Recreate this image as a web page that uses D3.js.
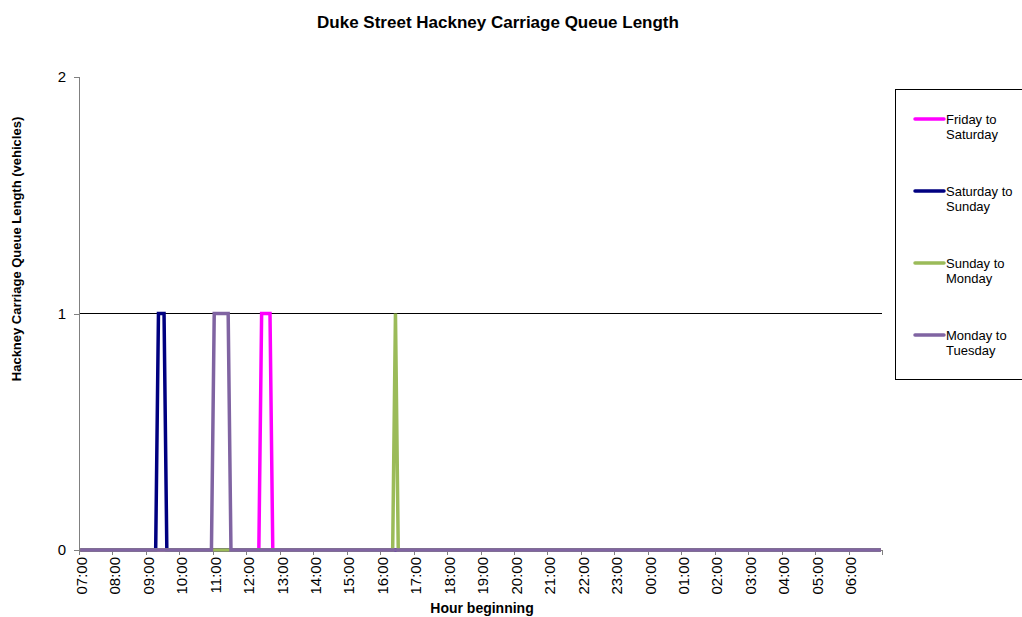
<!DOCTYPE html>
<html>
<head>
<meta charset="utf-8">
<script src="https://cdn.jsdelivr.net/npm/d3@7"></script>
<style>
  html, body { margin: 0; padding: 0; background: #fff; }
  svg { display: block; font-family: "Liberation Sans", Arial, sans-serif; }
</style>
</head>
<body>
<svg id="chart" width="1022" height="617"></svg>
<script>
// Queue length (vehicles) recorded every 5 minutes, 07:00 to 06:55 next day.
// One row per hour, twelve 5-minute readings per row.
const hourLabels = ["07:00","08:00","09:00","10:00","11:00","12:00","13:00","14:00",
  "15:00","16:00","17:00","18:00","19:00","20:00","21:00","22:00","23:00","00:00",
  "01:00","02:00","03:00","04:00","05:00","06:00"];

const seriesNames = ["Friday to Saturday", "Saturday to Sunday", "Sunday to Monday", "Monday to Tuesday"];

const fridayToSaturday = [
  0,0,0,0,0,0,0,0,0,0,0,0, // 07:00
  0,0,0,0,0,0,0,0,0,0,0,0, // 08:00
  0,0,0,0,0,0,0,0,0,0,0,0, // 09:00
  0,0,0,0,0,0,0,0,0,0,0,0, // 10:00
  0,0,0,0,0,0,0,0,0,0,0,0, // 11:00
  0,0,0,0,0,1,1,1,1,0,0,0, // 12:00
  0,0,0,0,0,0,0,0,0,0,0,0, // 13:00
  0,0,0,0,0,0,0,0,0,0,0,0, // 14:00
  0,0,0,0,0,0,0,0,0,0,0,0, // 15:00
  0,0,0,0,0,0,0,0,0,0,0,0, // 16:00
  0,0,0,0,0,0,0,0,0,0,0,0, // 17:00
  0,0,0,0,0,0,0,0,0,0,0,0, // 18:00
  0,0,0,0,0,0,0,0,0,0,0,0, // 19:00
  0,0,0,0,0,0,0,0,0,0,0,0, // 20:00
  0,0,0,0,0,0,0,0,0,0,0,0, // 21:00
  0,0,0,0,0,0,0,0,0,0,0,0, // 22:00
  0,0,0,0,0,0,0,0,0,0,0,0, // 23:00
  0,0,0,0,0,0,0,0,0,0,0,0, // 00:00
  0,0,0,0,0,0,0,0,0,0,0,0, // 01:00
  0,0,0,0,0,0,0,0,0,0,0,0, // 02:00
  0,0,0,0,0,0,0,0,0,0,0,0, // 03:00
  0,0,0,0,0,0,0,0,0,0,0,0, // 04:00
  0,0,0,0,0,0,0,0,0,0,0,0, // 05:00
  0,0,0,0,0,0,0,0,0,0,0,0  // 06:00
];

const saturdayToSunday = [
  0,0,0,0,0,0,0,0,0,0,0,0, // 07:00
  0,0,0,0,0,0,0,0,0,0,0,0, // 08:00
  0,0,0,0,1,1,1,0,0,0,0,0, // 09:00
  0,0,0,0,0,0,0,0,0,0,0,0, // 10:00
  0,0,0,0,0,0,0,0,0,0,0,0, // 11:00
  0,0,0,0,0,0,0,0,0,0,0,0, // 12:00
  0,0,0,0,0,0,0,0,0,0,0,0, // 13:00
  0,0,0,0,0,0,0,0,0,0,0,0, // 14:00
  0,0,0,0,0,0,0,0,0,0,0,0, // 15:00
  0,0,0,0,0,0,0,0,0,0,0,0, // 16:00
  0,0,0,0,0,0,0,0,0,0,0,0, // 17:00
  0,0,0,0,0,0,0,0,0,0,0,0, // 18:00
  0,0,0,0,0,0,0,0,0,0,0,0, // 19:00
  0,0,0,0,0,0,0,0,0,0,0,0, // 20:00
  0,0,0,0,0,0,0,0,0,0,0,0, // 21:00
  0,0,0,0,0,0,0,0,0,0,0,0, // 22:00
  0,0,0,0,0,0,0,0,0,0,0,0, // 23:00
  0,0,0,0,0,0,0,0,0,0,0,0, // 00:00
  0,0,0,0,0,0,0,0,0,0,0,0, // 01:00
  0,0,0,0,0,0,0,0,0,0,0,0, // 02:00
  0,0,0,0,0,0,0,0,0,0,0,0, // 03:00
  0,0,0,0,0,0,0,0,0,0,0,0, // 04:00
  0,0,0,0,0,0,0,0,0,0,0,0, // 05:00
  0,0,0,0,0,0,0,0,0,0,0,0  // 06:00
];

const sundayToMonday = [
  0,0,0,0,0,0,0,0,0,0,0,0, // 07:00
  0,0,0,0,0,0,0,0,0,0,0,0, // 08:00
  0,0,0,0,0,0,0,0,0,0,0,0, // 09:00
  0,0,0,0,0,0,0,0,0,0,0,0, // 10:00
  0,0,0,0,0,0,0,0,0,0,0,0, // 11:00
  0,0,0,0,0,0,0,0,0,0,0,0, // 12:00
  0,0,0,0,0,0,0,0,0,0,0,0, // 13:00
  0,0,0,0,0,0,0,0,0,0,0,0, // 14:00
  0,0,0,0,0,0,0,0,0,0,0,0, // 15:00
  0,0,0,0,0,1,0,0,0,0,0,0, // 16:00
  0,0,0,0,0,0,0,0,0,0,0,0, // 17:00
  0,0,0,0,0,0,0,0,0,0,0,0, // 18:00
  0,0,0,0,0,0,0,0,0,0,0,0, // 19:00
  0,0,0,0,0,0,0,0,0,0,0,0, // 20:00
  0,0,0,0,0,0,0,0,0,0,0,0, // 21:00
  0,0,0,0,0,0,0,0,0,0,0,0, // 22:00
  0,0,0,0,0,0,0,0,0,0,0,0, // 23:00
  0,0,0,0,0,0,0,0,0,0,0,0, // 00:00
  0,0,0,0,0,0,0,0,0,0,0,0, // 01:00
  0,0,0,0,0,0,0,0,0,0,0,0, // 02:00
  0,0,0,0,0,0,0,0,0,0,0,0, // 03:00
  0,0,0,0,0,0,0,0,0,0,0,0, // 04:00
  0,0,0,0,0,0,0,0,0,0,0,0, // 05:00
  0,0,0,0,0,0,0,0,0,0,0,0  // 06:00
];

const mondayToTuesday = [
  0,0,0,0,0,0,0,0,0,0,0,0, // 07:00
  0,0,0,0,0,0,0,0,0,0,0,0, // 08:00
  0,0,0,0,0,0,0,0,0,0,0,0, // 09:00
  0,0,0,0,0,0,0,0,0,0,0,0, // 10:00
  1,1,1,1,1,1,0,0,0,0,0,0, // 11:00
  0,0,0,0,0,0,0,0,0,0,0,0, // 12:00
  0,0,0,0,0,0,0,0,0,0,0,0, // 13:00
  0,0,0,0,0,0,0,0,0,0,0,0, // 14:00
  0,0,0,0,0,0,0,0,0,0,0,0, // 15:00
  0,0,0,0,0,0,0,0,0,0,0,0, // 16:00
  0,0,0,0,0,0,0,0,0,0,0,0, // 17:00
  0,0,0,0,0,0,0,0,0,0,0,0, // 18:00
  0,0,0,0,0,0,0,0,0,0,0,0, // 19:00
  0,0,0,0,0,0,0,0,0,0,0,0, // 20:00
  0,0,0,0,0,0,0,0,0,0,0,0, // 21:00
  0,0,0,0,0,0,0,0,0,0,0,0, // 22:00
  0,0,0,0,0,0,0,0,0,0,0,0, // 23:00
  0,0,0,0,0,0,0,0,0,0,0,0, // 00:00
  0,0,0,0,0,0,0,0,0,0,0,0, // 01:00
  0,0,0,0,0,0,0,0,0,0,0,0, // 02:00
  0,0,0,0,0,0,0,0,0,0,0,0, // 03:00
  0,0,0,0,0,0,0,0,0,0,0,0, // 04:00
  0,0,0,0,0,0,0,0,0,0,0,0, // 05:00
  0,0,0,0,0,0,0,0,0,0,0,0  // 06:00
];

const yTicks = [0, 1, 2];
const seriesColors = ["#FF00FF", "#000080", "#9BBB59", "#8064A2"];

const series = [fridayToSaturday, saturdayToSunday, sundayToMonday, mondayToTuesday]
  .map((values, k) => ({ name: seriesNames[k], color: seriesColors[k], values }));

const svg = d3.select("#chart");
const plot = { left: 79, right: 882, top: 77, bottom: 550 };
const slotsPerHour = 12;
const nSlots = hourLabels.length * slotsPerHour;

// Readings sit in the middle of their 5-minute slot.
const x = d3.scalePoint()
  .domain(d3.range(nSlots))
  .range([plot.left, plot.right])
  .padding(0.5);

// Hour boundaries for the category axis.
const xHour = d3.scaleLinear().domain([0, hourLabels.length]).range([plot.left, plot.right]);

const y = d3.scaleLinear().domain([0, 2]).range([plot.bottom, plot.top]);

// Title
svg.append("text")
  .attr("x", 498).attr("y", 28)
  .attr("text-anchor", "middle")
  .attr("font-size", 17).attr("font-weight", "bold")
  .text("Duke Street Hackney Carriage Queue Length");

// Gridline at 1
svg.append("line")
  .attr("x1", plot.left).attr("x2", plot.right)
  .attr("y1", y(1)).attr("y2", y(1))
  .attr("stroke", "#000").attr("stroke-width", 1)
  .attr("shape-rendering", "crispEdges");

// Y axis
const yAxis = svg.append("g")
  .attr("transform", `translate(${plot.left},0)`)
  .call(d3.axisLeft(y).tickValues(yTicks).tickFormat(d3.format("d")).tickSize(5).tickPadding(8));
yAxis.select(".domain").attr("stroke", "#808080").attr("shape-rendering", "crispEdges");
yAxis.selectAll(".tick line").attr("stroke", "#808080").attr("shape-rendering", "crispEdges");
yAxis.selectAll(".tick text").attr("font-size", 15).attr("font-family", "Liberation Sans, Arial, sans-serif").attr("fill", "#000");

// X axis
const xAxis = svg.append("g")
  .attr("transform", `translate(0,${plot.bottom})`)
  .call(d3.axisBottom(xHour)
    .tickValues(d3.range(hourLabels.length + 1))
    .tickFormat(i => hourLabels[i] || "")
    .tickSize(5).tickSizeOuter(0));
xAxis.select(".domain").attr("stroke", "#808080").attr("shape-rendering", "crispEdges");
xAxis.selectAll(".tick line").attr("stroke", "#808080").attr("shape-rendering", "crispEdges");
xAxis.selectAll(".tick text")
  .attr("font-size", 15).attr("font-family", "Liberation Sans, Arial, sans-serif").attr("fill", "#000")
  .attr("text-anchor", "end")
  .attr("transform", "rotate(-90)")
  .attr("x", -7).attr("y", 2).attr("dy", "0.35em");

// Series lines
const line = d3.line().x((d, i) => x(i)).y(d => y(d));
svg.append("g").selectAll("path")
  .data(series)
  .join("path")
  .attr("d", s => line(s.values))
  .attr("fill", "none")
  .attr("stroke", s => s.color)
  .attr("stroke-width", 3.5)
  .attr("stroke-linejoin", "miter");

// Axis titles
svg.append("text")
  .attr("transform", "translate(21,249) rotate(-90)")
  .attr("text-anchor", "middle")
  .attr("font-size", 13).attr("font-weight", "bold")
  .text("Hackney Carriage Queue Length (vehicles)");

svg.append("text")
  .attr("x", 482).attr("y", 613)
  .attr("text-anchor", "middle")
  .attr("font-size", 14).attr("font-weight", "bold")
  .text("Hour beginning");

// Legend
const legend = svg.append("g");
legend.append("rect")
  .attr("x", 895.5).attr("y", 89.5).attr("width", 140).attr("height", 290)
  .attr("fill", "#fff").attr("stroke", "#000").attr("stroke-width", 1);

const items = legend.selectAll("g.item")
  .data(series)
  .join("g")
  .attr("class", "item")
  .attr("transform", (d, i) => `translate(0,${119 + i * 72})`);
items.append("line")
  .attr("x1", 915).attr("x2", 944)
  .attr("stroke", d => d.color).attr("stroke-width", 3.5)
  .attr("stroke-linecap", "round");
items.append("text")
  .attr("x", 946).attr("y", 0)
  .attr("font-size", 13)
  .selectAll("tspan")
  .data(d => { const p = d.name.split(" to "); return [p[0] + " to", p[1]]; })
  .join("tspan")
  .attr("x", 946)
  .attr("dy", (d, i) => i === 0 ? "0.35em" : "1.15em")
  .text(d => d);
</script>
</body>
</html>
